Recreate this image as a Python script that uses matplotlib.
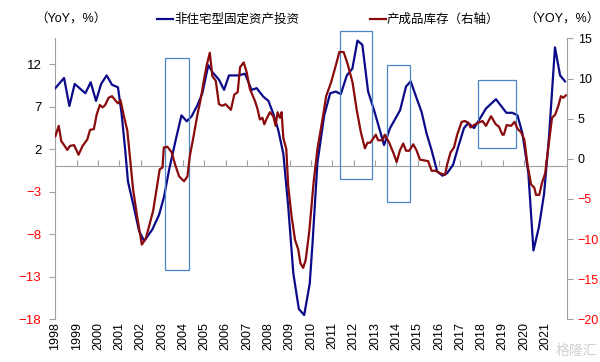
import numpy as np
import matplotlib.pyplot as plt
from matplotlib.lines import Line2D
from matplotlib.patches import Rectangle

plt.rcParams['font.family'] = ['Liberation Sans', 'Noto Sans CJK SC', 'DejaVu Sans']

# --- データ ---
# 非住宅型固定资产投资 (左轴, YoY %)
blue_t = [1998.0, 1998.41, 1998.66, 1998.91, 1999.41, 1999.66, 1999.91, 2000.15, 2000.41, 2000.66,
          2000.94, 2001.11, 2001.28, 2001.41, 2001.65, 2001.93, 2002.17, 2002.56, 2002.87, 2003.1,
          2003.34, 2003.65, 2003.92, 2004.17, 2004.4, 2004.67, 2004.9, 2005.18, 2005.4, 2005.68,
          2005.92, 2006.15, 2006.59, 2006.9, 2007.21, 2007.45, 2007.76, 2008.0, 2008.23, 2008.46,
          2008.7, 2008.93, 2009.17, 2009.43, 2009.68, 2009.94, 2010.07, 2010.3, 2010.62, 2010.9,
          2011.16, 2011.4, 2011.68, 2011.94, 2012.18, 2012.41, 2012.68, 2012.96, 2013.43, 2013.71,
          2014.18, 2014.46, 2014.68, 2014.93, 2015.19, 2015.42, 2015.66, 2015.92, 2016.17, 2016.39,
          2016.67, 2016.91, 2017.18, 2017.38, 2017.65, 2017.9, 2018.21, 2018.68, 2019.17, 2019.45,
          2019.69, 2019.92, 2020.2, 2020.44, 2020.7, 2020.94, 2021.17, 2021.45, 2021.69, 2021.92]
blue_v = [9.2, 10.4, 7.1, 9.7, 8.6, 9.9, 7.7, 9.7, 10.7, 9.6,
          9.3, 6.2, 1.9, -1.8, -4.4, -7.6, -8.8, -7.4, -5.7, -3.6,
          -0.4, 3.1, 6.0, 5.3, 5.9, 7.2, 8.6, 11.9, 11.0, 10.2,
          9.0, 10.7, 10.7, 10.9, 9.0, 9.2, 8.2, 7.7, 6.2, 4.3,
          1.5, -4.7, -12.6, -16.8, -17.5, -13.8, -9.1, 0.4, 6.0, 8.6,
          8.8, 8.5, 10.7, 11.5, 14.8, 14.3, 8.8, 6.6, 2.5, 4.5,
          6.6, 9.4, 10.0, 8.2, 6.4, 3.9, 1.9, -0.6, -1.1, -0.8,
          0.2, 2.3, 4.5, 5.1, 4.5, 5.5, 6.8, 7.9, 6.3, 6.3,
          6.0, 3.9, -0.8, -9.9, -7.1, -3.2, 3.5, 14.0, 10.7, 10.0]

# 产成品库存 (右轴, YoY %)
red_t = [1998.0, 1998.16, 1998.28, 1998.44, 1998.56, 1998.69, 1998.88, 1999.09, 1999.28, 1999.5,
         1999.63, 1999.81, 1999.94, 2000.09, 2000.22, 2000.34, 2000.5, 2000.66, 2000.81, 2000.94,
         2001.06, 2001.22, 2001.38, 2001.53, 2001.65, 2001.84, 2002.06, 2002.25, 2002.44, 2002.59,
         2002.72, 2002.9, 2003.03, 2003.09, 2003.26, 2003.46, 2003.62, 2003.81, 2004.04, 2004.2,
         2004.31, 2004.46, 2004.67, 2004.82, 2004.98, 2005.1, 2005.25, 2005.37, 2005.53, 2005.68,
         2005.84, 2005.99, 2006.24, 2006.4, 2006.56, 2006.67, 2006.84, 2006.98, 2007.13, 2007.37,
         2007.49, 2007.6, 2007.72, 2007.81, 2007.92, 2008.07, 2008.23, 2008.34, 2008.43, 2008.54,
         2008.62, 2008.7, 2008.84, 2008.93, 2009.09, 2009.25, 2009.4, 2009.5, 2009.63, 2009.75,
         2009.92, 2010.12, 2010.3, 2010.55, 2010.71, 2010.94, 2011.12, 2011.33, 2011.53, 2011.72,
         2011.95, 2012.15, 2012.34, 2012.53, 2012.65, 2012.78, 2012.89, 2013.04, 2013.15, 2013.36,
         2013.46, 2013.67, 2013.87, 2014.02, 2014.18, 2014.33, 2014.46, 2014.61, 2014.8, 2014.96,
         2015.11, 2015.3, 2015.5, 2015.66, 2015.86, 2016.05, 2016.29, 2016.39, 2016.55, 2016.71,
         2016.86, 2017.07, 2017.22, 2017.38, 2017.49, 2017.65, 2017.85, 2018.05, 2018.21, 2018.45,
         2018.67, 2018.82, 2018.98, 2019.05, 2019.18, 2019.39, 2019.55, 2019.7, 2019.86, 2020.01,
         2020.17, 2020.33, 2020.48, 2020.56, 2020.71, 2020.84, 2020.99, 2021.15, 2021.31, 2021.46,
         2021.62, 2021.73, 2021.84, 2021.96]
red_v = [2.8, 4.1, 2.2, 1.6, 1.1, 1.6, 1.7, 0.5, 1.6, 2.4,
         3.6, 3.7, 5.5, 6.7, 6.4, 6.7, 7.6, 7.8, 7.3, 6.9,
         7.3, 5.3, 3.5, -0.5, -3.8, -7.2, -10.7, -9.9, -8.0, -6.5,
         -4.3, -1.3, -1.1, 1.4, 1.5, 0.8, -0.7, -2.2, -2.8, -2.2,
         0.3, 2.4, 5.5, 7.4, 9.9, 11.6, 13.2, 10.3, 9.7, 6.8,
         6.6, 6.8, 6.1, 8.0, 8.3, 11.4, 12.0, 10.8, 8.7, 7.2,
         6.2, 4.9, 5.1, 4.3, 5.0, 5.8, 5.3, 4.1, 5.8, 5.1,
         5.8, 2.6, 1.2, -3.4, -7.2, -10.1, -11.3, -13.0, -13.6, -12.6,
         -9.0, -3.0, 1.2, 5.1, 7.8, 9.5, 11.2, 13.3, 13.3, 11.8,
         9.5, 6.0, 3.3, 1.3, 2.0, 2.0, 2.4, 3.0, 2.3, 2.3,
         3.0, 2.0, 0.7, -0.4, 1.1, 1.9, 1.0, 1.0, 1.8, 1.0,
         -0.1, -0.2, -0.3, -1.5, -1.5, -1.8, -2.0, -0.7, 0.8, 1.4,
         3.0, 4.6, 4.7, 4.5, 3.9, 4.2, 4.5, 4.7, 4.1, 5.3,
         4.3, 4.0, 3.0, 3.0, 4.2, 4.1, 4.6, 3.7, 3.3, 2.4,
         -0.9, -3.2, -3.6, -4.5, -4.5, -3.0, -1.8, 1.6, 5.1, 5.5,
         6.7, 7.8, 7.6, 7.9]

# 注目期間の枠 (開始年, 終了年, 上端, 下端) 左軸の単位
boxes = [(2003.15, 2004.27, 12.8, -12.2),
         (2011.35, 2012.85, 15.9, -1.5),
         (2013.55, 2014.63, 11.9, -4.2),
         (2017.83, 2019.64, 10.2, 2.2)]

years = list(range(1998, 2022))
left_ticks = [-18, -13, -8, -3, 2, 7, 12]
right_ticks = [-20, -15, -10, -5, 0, 5, 10, 15]

blue_c = '#0B0B8A'
red_c = '#8A0B0B'
grey = '#A0A0A0'

fig = plt.figure(figsize=(6, 3.62), dpi=100)
ax = fig.add_axes([0.0922, 0.118, 0.8523, 0.776])
ax2 = ax.twinx()

ax.plot(blue_t, blue_v, color=blue_c, lw=1.6, zorder=3)
ax2.plot(red_t, red_v, color=red_c, lw=1.6, zorder=3)

for x0, x1, top, bot in boxes:
    ax.add_patch(Rectangle((x0, bot), x1 - x0, top - bot, fill=False,
                           edgecolor='#4A86C8', lw=0.9, clip_on=False, zorder=4))

ax.set_xlim(1998, 2022)
ax.set_ylim(-18, 15.06)
ax2.set_ylim(-20, 15)

# 左軸
ax.set_yticks(left_ticks)
ax.tick_params(axis='y', direction='out', length=4, color=grey, labelsize=9.5, pad=6)
for lab, v in zip(ax.get_yticklabels(), left_ticks):
    lab.set_color('red' if v < 0 else 'black')

# 右軸
ax2.set_yticks(right_ticks)
ax2.tick_params(axis='y', direction='out', length=4, color=grey, labelsize=9, pad=4)
for lab, v in zip(ax2.get_yticklabels(), right_ticks):
    lab.set_color('red' if v < 0 else 'black')

for a in (ax, ax2):
    a.spines['top'].set_visible(False)
ax.spines['right'].set_visible(False)
ax2.spines['left'].set_visible(False)
ax2.spines['bottom'].set_visible(False)
ax.spines['left'].set_color(grey)
ax2.spines['right'].set_color(grey)

# x軸の線はゼロの位置に
ax.spines['bottom'].set_position(('data', 0))
ax.spines['bottom'].set_color(grey)
ax.set_xticks(years)
ax.tick_params(axis='x', direction='in', length=4, color=grey, labelbottom=False)

sec = ax.secondary_xaxis('bottom')
sec.set_xticks(years)
sec.set_xticklabels([str(y) for y in years], rotation=90, fontsize=9)
sec.tick_params(length=0, pad=2)
sec.spines['bottom'].set_visible(False)

# 凡例と単位
handles = [Line2D([], [], color=blue_c, lw=1.6), Line2D([], [], color=red_c, lw=1.6)]
fig.legend(handles, ['非住宅型固定资产投资', '产成品库存（右轴）'], ncol=2, frameon=False,
           loc='center left', bbox_to_anchor=(0.243, 0.945), fontsize=9,
           handlelength=1.3, handletextpad=0.1, columnspacing=5.6)
fig.text(0.058, 0.945, '（YoY，%）', fontsize=9, va='center')
fig.text(0.873, 0.945, '（YOY，%）', fontsize=9, va='center')
fig.text(0.995, 0.03, '格隆汇', fontsize=10, color='#D0D0D0', ha='right', va='center')

fig.savefig('out.png', dpi=100)
